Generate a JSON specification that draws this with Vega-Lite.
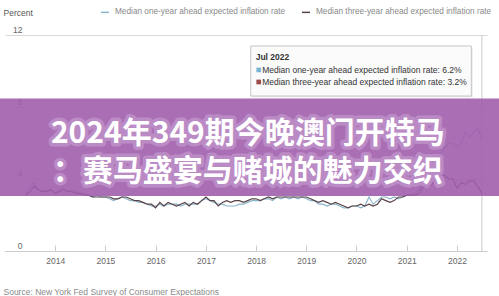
{
  "$schema": "https://vega.github.io/schema/vega-lite/v6.json",
  "width": 482,
  "height": 216,
  "autosize": {"type": "none"},
  "padding": {"left": 5, "top": 35, "right": 12, "bottom": 45},
  "background": "white",
  "config": {"view": {"stroke": null}, "font": "Liberation Sans"},
  "layer": [
    {
      "data": {"values": [{}]},
      "mark": {"type": "rule", "color": "#c8c8c8", "strokeWidth": 1},
      "encoding": {
        "x": {"datum": {"year": 2022, "month": 7, "date": 1, "utc": true}, "type": "temporal"},
        "y": {"datum": 0},
        "y2": {"datum": 12}
      }
    },
    {
      "data": {"values": [
        {"date": "2013-06", "one": 3.2, "three": 3.1},
        {"date": "2013-07", "one": 3.5, "three": 3.3},
        {"date": "2013-08", "one": 3.8, "three": 3.6},
        {"date": "2013-09", "one": 3.4, "three": 3.4},
        {"date": "2013-10", "one": 3.3, "three": 3.3},
        {"date": "2013-11", "one": 3.4, "three": 3.3},
        {"date": "2013-12", "one": 3.4, "three": 3.4},
        {"date": "2014-01", "one": 3.2, "three": 3.2},
        {"date": "2014-02", "one": 3.4, "three": 3.3},
        {"date": "2014-03", "one": 3.5, "three": 3.4},
        {"date": "2014-04", "one": 3.3, "three": 3.3},
        {"date": "2014-05", "one": 3.4, "three": 3.3},
        {"date": "2014-06", "one": 3.3, "three": 3.2},
        {"date": "2014-07", "one": 3.2, "three": 3.2},
        {"date": "2014-08", "one": 3.2, "three": 3.1},
        {"date": "2014-09", "one": 3.1, "three": 3.1},
        {"date": "2014-10", "one": 3.0, "three": 3.0},
        {"date": "2014-11", "one": 3.1, "three": 3.0},
        {"date": "2014-12", "one": 3.0, "three": 3.0},
        {"date": "2015-01", "one": 3.0, "three": 3.0},
        {"date": "2015-02", "one": 2.9, "three": 3.0},
        {"date": "2015-03", "one": 2.8, "three": 2.9},
        {"date": "2015-04", "one": 2.9, "three": 2.9},
        {"date": "2015-05", "one": 3.0, "three": 3.0},
        {"date": "2015-06", "one": 2.9, "three": 3.0},
        {"date": "2015-07", "one": 2.8, "three": 2.9},
        {"date": "2015-08", "one": 2.8, "three": 2.8},
        {"date": "2015-09", "one": 2.7, "three": 2.8},
        {"date": "2015-10", "one": 2.7, "three": 2.7},
        {"date": "2015-11", "one": 2.6, "three": 2.6},
        {"date": "2015-12", "one": 2.5, "three": 2.6},
        {"date": "2016-01", "one": 2.5, "three": 2.4},
        {"date": "2016-02", "one": 2.6, "three": 2.7},
        {"date": "2016-03", "one": 2.5, "three": 2.5},
        {"date": "2016-04", "one": 2.6, "three": 2.7},
        {"date": "2016-05", "one": 2.6, "three": 2.6},
        {"date": "2016-06", "one": 2.6, "three": 2.5},
        {"date": "2016-07", "one": 2.5, "three": 2.6},
        {"date": "2016-08", "one": 2.6, "three": 2.7},
        {"date": "2016-09", "one": 2.6, "three": 2.5},
        {"date": "2016-10", "one": 2.6, "three": 2.7},
        {"date": "2016-11", "one": 2.6, "three": 2.6},
        {"date": "2016-12", "one": 2.8, "three": 2.8},
        {"date": "2017-01", "one": 2.9, "three": 3.0},
        {"date": "2017-02", "one": 2.8, "three": 2.8},
        {"date": "2017-03", "one": 2.7, "three": 2.8},
        {"date": "2017-04", "one": 2.6, "three": 2.5},
        {"date": "2017-05", "one": 2.6, "three": 2.7},
        {"date": "2017-06", "one": 2.5, "three": 2.8},
        {"date": "2017-07", "one": 2.5, "three": 2.7},
        {"date": "2017-08", "one": 2.5, "three": 2.8},
        {"date": "2017-09", "one": 2.6, "three": 2.8},
        {"date": "2017-10", "one": 2.6, "three": 2.7},
        {"date": "2017-11", "one": 2.7, "three": 2.8},
        {"date": "2017-12", "one": 2.8, "three": 2.9},
        {"date": "2018-01", "one": 2.8, "three": 2.9},
        {"date": "2018-02", "one": 2.8, "three": 2.8},
        {"date": "2018-03", "one": 2.9, "three": 2.9},
        {"date": "2018-04", "one": 2.9, "three": 3.0},
        {"date": "2018-05", "one": 2.8, "three": 2.9},
        {"date": "2018-06", "one": 3.0, "three": 3.0},
        {"date": "2018-07", "one": 2.9, "three": 3.0},
        {"date": "2018-08", "one": 3.0, "three": 3.0},
        {"date": "2018-09", "one": 2.9, "three": 3.0},
        {"date": "2018-10", "one": 3.0, "three": 3.0},
        {"date": "2018-11", "one": 2.9, "three": 3.0},
        {"date": "2018-12", "one": 3.0, "three": 3.0},
        {"date": "2019-01", "one": 2.9, "three": 3.0},
        {"date": "2019-02", "one": 2.8, "three": 2.9},
        {"date": "2019-03", "one": 2.8, "three": 2.8},
        {"date": "2019-04", "one": 2.6, "three": 2.7},
        {"date": "2019-05", "one": 2.6, "three": 2.8},
        {"date": "2019-06", "one": 2.5, "three": 2.7},
        {"date": "2019-07", "one": 2.6, "three": 2.6},
        {"date": "2019-08", "one": 2.6, "three": 2.7},
        {"date": "2019-09", "one": 2.5, "three": 2.6},
        {"date": "2019-10", "one": 2.4, "three": 2.5},
        {"date": "2019-11", "one": 2.4, "three": 2.4},
        {"date": "2019-12", "one": 2.5, "three": 2.5},
        {"date": "2020-01", "one": 2.5, "three": 2.5},
        {"date": "2020-02", "one": 2.4, "three": 2.6},
        {"date": "2020-03", "one": 2.5, "three": 2.5},
        {"date": "2020-04", "one": 3.0, "three": 2.6},
        {"date": "2020-05", "one": 2.6, "three": 2.5},
        {"date": "2020-06", "one": 2.8, "three": 2.6},
        {"date": "2020-07", "one": 3.0, "three": 2.9},
        {"date": "2020-08", "one": 3.0, "three": 2.8},
        {"date": "2020-09", "one": 2.9, "three": 2.7},
        {"date": "2020-10", "one": 3.0, "three": 2.8},
        {"date": "2020-11", "one": 2.9, "three": 3.0},
        {"date": "2020-12", "one": 3.0, "three": 3.0},
        {"date": "2021-01", "one": 3.1, "three": 3.1},
        {"date": "2021-02", "one": 3.1, "three": 3.1},
        {"date": "2021-03", "one": 3.2, "three": 3.1},
        {"date": "2021-04", "one": 3.4, "three": 3.2},
        {"date": "2021-05", "one": 4.0, "three": 3.6},
        {"date": "2021-06", "one": 4.8, "three": 3.6},
        {"date": "2021-07", "one": 4.8, "three": 3.7},
        {"date": "2021-08", "one": 5.2, "three": 4.0},
        {"date": "2021-09", "one": 5.3, "three": 4.2},
        {"date": "2021-10", "one": 5.7, "three": 4.2},
        {"date": "2021-11", "one": 6.0, "three": 4.0},
        {"date": "2021-12", "one": 6.0, "three": 4.0},
        {"date": "2022-01", "one": 5.8, "three": 3.5},
        {"date": "2022-02", "one": 6.0, "three": 3.8},
        {"date": "2022-03", "one": 6.6, "three": 3.7},
        {"date": "2022-04", "one": 6.3, "three": 3.9},
        {"date": "2022-05", "one": 6.6, "three": 3.9},
        {"date": "2022-06", "one": 6.8, "three": 3.6},
        {"date": "2022-07", "one": 6.2, "three": 3.2}
      ]},
      "transform": [{"fold": ["one", "three"], "as": ["series", "value"]}],
      "mark": {"type": "line", "strokeWidth": 1.2},
      "encoding": {
        "x": {
          "field": "date",
          "type": "temporal",
          "scale": {"type": "utc", "domain": [{"year": 2013, "month": 1, "date": 1, "utc": true}, {"year": 2022, "month": 8, "date": 7, "utc": true}]},
          "axis": {
            "values": [
              {"year": 2014, "month": 1, "date": 1, "utc": true},
              {"year": 2015, "month": 1, "date": 1, "utc": true},
              {"year": 2016, "month": 1, "date": 1, "utc": true},
              {"year": 2017, "month": 1, "date": 1, "utc": true},
              {"year": 2018, "month": 1, "date": 1, "utc": true},
              {"year": 2019, "month": 1, "date": 1, "utc": true},
              {"year": 2020, "month": 1, "date": 1, "utc": true},
              {"year": 2021, "month": 1, "date": 1, "utc": true},
              {"year": 2022, "month": 1, "date": 1, "utc": true}
            ],
            "format": "%Y",
            "grid": false,
            "domain": true,
            "domainColor": "#cccccc",
            "ticks": true,
            "tickColor": "#cccccc",
            "tickSize": -6,
            "labelPadding": 11,
            "labelBaseline": "top",
            "labelFontSize": 8.5,
            "labelColor": "#666666",
            "title": "Source: New York Fed Survey of Consumer Expectations",
            "titleAnchor": "start",
            "titleAlign": "left",
            "titleBaseline": "alphabetic",
            "titleX": -2,
            "titleY": 43,
            "titleFontSize": 8.5,
            "titleFontWeight": "normal",
            "titleColor": "#8a8a8a"
          }
        },
        "y": {
          "field": "value",
          "type": "quantitative",
          "scale": {"domain": [0, 12], "nice": false},
          "axis": {
            "values": [0, 2, 4, 6, 8, 10, 12],
            "domain": false,
            "ticks": false,
            "tickSize": 0,
            "grid": true,
            "gridColor": "#d9d9d9",
            "labelAlign": "right",
            "labelBaseline": "alphabetic",
            "labelPadding": -17,
            "labelOffset": -3,
            "labelFontSize": 8.5,
            "labelColor": "#666666",
            "title": "Percent",
            "titleAngle": 0,
            "titleAlign": "left",
            "titleBaseline": "alphabetic",
            "titleX": -2,
            "titleY": -20,
            "titleFontSize": 8.5,
            "titleFontWeight": "normal",
            "titleColor": "#555555"
          }
        },
        "color": {
          "field": "series",
          "type": "nominal",
          "scale": {"domain": ["one", "three"], "range": ["#8ab6cc", "#5a4248"]},
          "legend": {
            "orient": "none",
            "legendX": 95,
            "legendY": -28,
            "direction": "horizontal",
            "title": null,
            "symbolType": "stroke",
            "symbolSize": 64,
            "symbolStrokeWidth": 1.5,
            "labelFontSize": 8.25,
            "labelColor": "#8a8a8a",
            "labelLimit": 300,
            "labelOffset": 5,
            "columnPadding": 13,
            "padding": 0,
            "labelExpr": "datum.label == 'one' ? 'Median one-year ahead expected inflation rate' : 'Median three-year ahead expected inflation rate'"
          }
        }
      }
    },
    {
      "data": {"values": [{}]},
      "mark": {"type": "rect", "fill": "#000000", "opacity": 0.07},
      "encoding": {
        "x": {"datum": {"year": 2017, "month": 12, "date": 4, "utc": true}, "type": "temporal"},
        "x2": {"datum": {"year": 2022, "month": 4, "date": 26, "utc": true}},
        "y": {"datum": 11.31},
        "y2": {"datum": 8.53}
      }
    },
    {
      "data": {"values": [{}]},
      "mark": {"type": "rect", "fill": "#fbfbfb", "stroke": "#c6c6c6", "strokeWidth": 1},
      "encoding": {
        "x": {"datum": {"year": 2017, "month": 11, "date": 23, "utc": true}, "type": "temporal"},
        "x2": {"datum": {"year": 2022, "month": 4, "date": 15, "utc": true}},
        "y": {"datum": 11.39},
        "y2": {"datum": 8.61}
      }
    },
    {
      "data": {"values": [{}]},
      "mark": {"type": "text", "text": "Jul 2022", "align": "left", "baseline": "middle", "fontSize": 8.5, "fontWeight": "bold", "color": "#333333"},
      "encoding": {
        "x": {"datum": {"year": 2017, "month": 12, "date": 29, "utc": true}, "type": "temporal"},
        "y": {"datum": 10.78}
      }
    },
    {
      "data": {"values": [{}]},
      "mark": {"type": "square", "filled": true, "size": 22, "color": "#7cb5d2", "opacity": 1},
      "encoding": {
        "x": {"datum": {"year": 2018, "month": 1, "date": 20, "utc": true}, "type": "temporal"},
        "y": {"datum": 10.06}
      }
    },
    {
      "data": {"values": [{}]},
      "mark": {"type": "square", "filled": true, "size": 22, "color": "#9b4a4a", "opacity": 1},
      "encoding": {
        "x": {"datum": {"year": 2018, "month": 1, "date": 20, "utc": true}, "type": "temporal"},
        "y": {"datum": 9.39}
      }
    },
    {
      "data": {"values": [{}]},
      "mark": {"type": "text", "text": "Median one-year ahead expected inflation rate: 6.2%", "align": "left", "baseline": "middle", "fontSize": 8.5, "color": "#333333"},
      "encoding": {
        "x": {"datum": {"year": 2018, "month": 2, "date": 14, "utc": true}, "type": "temporal"},
        "y": {"datum": 10.06}
      }
    },
    {
      "data": {"values": [{}]},
      "mark": {"type": "text", "text": "Median three-year ahead expected inflation rate: 3.2%", "align": "left", "baseline": "middle", "fontSize": 8.5, "color": "#333333"},
      "encoding": {
        "x": {"datum": {"year": 2018, "month": 2, "date": 14, "utc": true}, "type": "temporal"},
        "y": {"datum": 9.39}
      }
    },
    {
      "data": {"values": [{}]},
      "mark": {"type": "rect", "fill": "#a15ead", "opacity": 0.9},
      "encoding": {
        "x": {"datum": {"year": 2012, "month": 11, "date": 1, "utc": true}, "type": "temporal"},
        "x2": {"datum": {"year": 2022, "month": 12, "date": 31, "utc": true}},
        "y": {"datum": 8.47},
        "y2": {"datum": 3.05}
      }
    },
    {
      "data": {"values": [{}]},
      "mark": {"type": "text", "text": "2024年349期今晚澳门开特马", "align": "center", "baseline": "middle", "font": "Noto Sans CJK SC", "fontSize": 30, "fontWeight": "bold", "fill": "#c9a3d4", "stroke": "#c9a3d4", "strokeWidth": 7, "strokeJoin": "round", "opacity": 0.55},
      "encoding": {
        "x": {"datum": {"year": 2017, "month": 11, "date": 2, "utc": true}, "type": "temporal"},
        "y": {"datum": 6.48}
      }
    },
    {
      "data": {"values": [{}]},
      "mark": {"type": "text", "text": "：赛马盛宴与赌城的魅力交织", "align": "center", "baseline": "middle", "font": "Noto Sans CJK SC", "fontSize": 30, "fontWeight": "bold", "fill": "#c9a3d4", "stroke": "#c9a3d4", "strokeWidth": 7, "strokeJoin": "round", "opacity": 0.55},
      "encoding": {
        "x": {"datum": {"year": 2017, "month": 11, "date": 2, "utc": true}, "type": "temporal"},
        "y": {"datum": 4.37}
      }
    },
    {
      "data": {"values": [{}]},
      "mark": {"type": "text", "text": "2024年349期今晚澳门开特马", "align": "center", "baseline": "middle", "font": "Noto Sans CJK SC", "fontSize": 30, "fontWeight": "bold", "fill": "#ffffff"},
      "encoding": {
        "x": {"datum": {"year": 2017, "month": 11, "date": 2, "utc": true}, "type": "temporal"},
        "y": {"datum": 6.48}
      }
    },
    {
      "data": {"values": [{}]},
      "mark": {"type": "text", "text": "：赛马盛宴与赌城的魅力交织", "align": "center", "baseline": "middle", "font": "Noto Sans CJK SC", "fontSize": 30, "fontWeight": "bold", "fill": "#ffffff"},
      "encoding": {
        "x": {"datum": {"year": 2017, "month": 11, "date": 2, "utc": true}, "type": "temporal"},
        "y": {"datum": 4.37}
      }
    }
  ]
}
